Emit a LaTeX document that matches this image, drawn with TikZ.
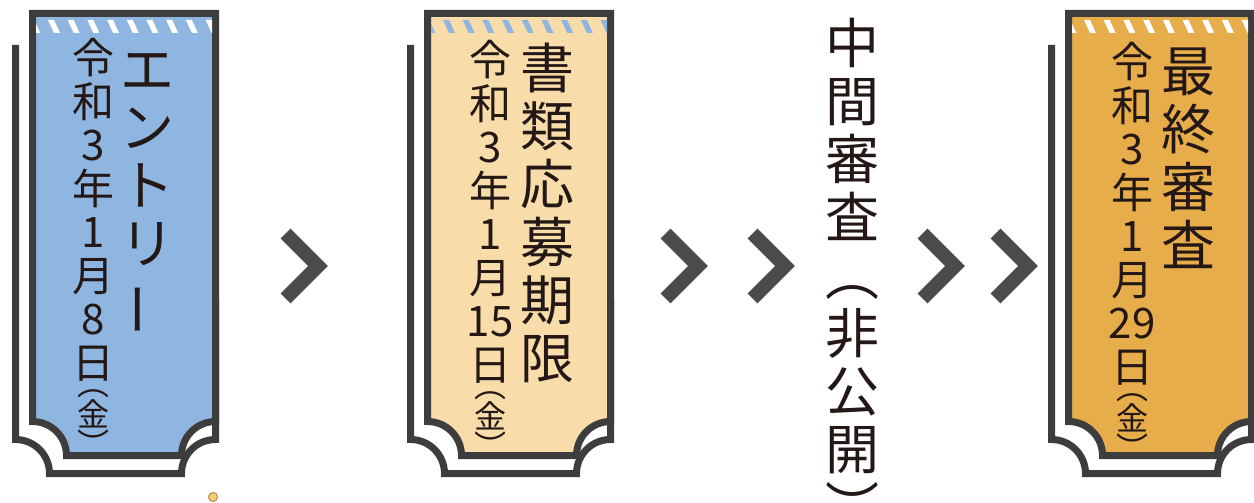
\documentclass[tikz,border=0pt]{standalone}
\usepackage{fontspec}
\newfontfamily\jpfont{Noto Sans CJK JP}
\usetikzlibrary{positioning}

\definecolor{ticketblue}{HTML}{8FB6E1}
\definecolor{ticketcream}{HTML}{F8DDAB}
\definecolor{ticketgold}{HTML}{E6AD4A}
\definecolor{rimgray}{HTML}{3D3D3D}
\definecolor{chevgray}{HTML}{4A4B4D}
\definecolor{inkblack}{HTML}{231815}
\definecolor{dotfill}{HTML}{F6CB7E}
\definecolor{dotline}{HTML}{B8874A}

\tikzset{every picture/.style={line width=0.75pt}}
\tikzset{
  rim/.style={draw=rimgray,line width=5.25pt,line join=miter},
  chevron/.style={draw=chevgray,line width=10.5pt,line join=miter},
  datecol/.style={inner sep=0pt,text=inkblack,align=center,font=\jpfont\fontsize{31.5}{32.6}\selectfont},
  daycol/.style={inner sep=0pt,text=inkblack,align=center,font=\jpfont\fontsize{24}{1}\selectfont},
  titlecol/.style={inner sep=0pt,text=inkblack,align=center,font=\jpfont\fontsize{40.5}{43.5}\selectfont},
}

% ticket: left edge, fill colour, stripe colour
\newcommand{\ticketcard}[3]{%
  \draw[rim] (#1-13.5,45) -- (#1-13.5,439.5) arc[start angle=270,end angle=360,radius=34]
    -- (#1+152.5,473.5) arc[start angle=180,end angle=270,radius=34] -- (#1+186.5,300);
  \filldraw[rim,fill=#2] (#1+3.5,13.5) -- (#1+3.5,421.5) arc[start angle=270,end angle=360,radius=34]
    -- (#1+152.5,455.5) arc[start angle=180,end angle=270,radius=34] -- (#1+186.5,13.5) -- cycle;
  \begin{scope}
    \clip (#1+7,20) rectangle (#1+183,33);
    \foreach \k in {-1,...,9}
      \fill[#3] (#1+19+19.7*\k,20) -- ++(6,0) -- ++(6,13) -- ++(-6,0) -- cycle;
  \end{scope}
}

\begin{document}
\begin{tikzpicture}[x=0.75pt,y=0.75pt,yscale=-1,xscale=1]

        \fill[white] (0,0) rectangle (1254,503);
        \useasboundingbox (0,0) rectangle (1254,503);

        \ticketcard{29}{ticketblue}{white}
        \ticketcard{424}{ticketcream}{ticketblue}
        \ticketcard{1065}{ticketgold}{white}

        % entry
        \node[titlecol,anchor=north] (entrytitle) at (147,53) {エ\\ン\\ト\\リ\\\rotatebox[origin=c]{90}{ー}};
        \node[datecol,anchor=north] (entrydate) at (93,38) {令\\和\\3\\年\\1\\月\\8\\日};
        \node[daycol,below=6pt of entrydate] (entryday) {︵\\金\\︶};

        % documents
        \node[titlecol,anchor=north] (doctitle) at (547,43) {書\\類\\応\\募\\期\\限};
        \node[datecol,anchor=north] (docdate) at (490,40) {令\\和\\3\\年\\1\\月\\15\\日};
        \node[daycol,below=6pt of docdate] (docday) {︵\\金\\︶};

        % middle
        \node[titlecol,anchor=north] (midreview) at (852,18) {中\\間\\審\\査\\︵\\非\\公\\開\\︶};

        % final
        \node[titlecol,anchor=north] (finaltitle) at (1188,47) {最\\終\\審\\査};
        \node[datecol,anchor=north] (finaldate) at (1132,42) {令\\和\\3\\年\\1\\月\\29\\日};
        \node[daycol,below=6pt of finaldate] (finalday) {︵\\金\\︶};

        \foreach \tx in {318,698,785,955,1028}
          \draw[chevron] (\tx-32.5,233.5) -- (\tx,266) -- (\tx-32.5,298.5);

        \filldraw[fill=dotfill,draw=dotline] (213,497) circle[radius=4.5];

\end{tikzpicture}
\end{document}
